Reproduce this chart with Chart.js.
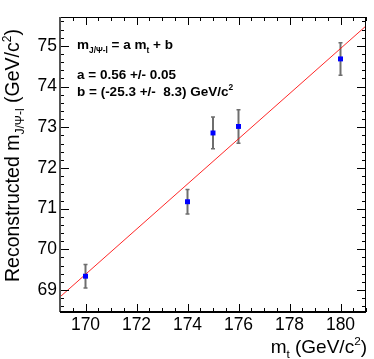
<!DOCTYPE html>
<html>
<head>
<meta charset="utf-8">
<script src="https://cdn.jsdelivr.net/npm/chart.js@4/dist/chart.umd.min.js"></script>
<style>
  html, body { margin: 0; padding: 0; background: #fff; }
</style>
</head>
<body>
<canvas id="myChart" width="374" height="359"></canvas>
<script>
// top mass points and reconstructed J/psi-lepton mass
const topMass = [170, 174, 175, 176, 180]
const recoMass = [69.34, 71.17, 72.86, 73.02, 74.68]
const recoErr = [0.29, 0.30, 0.39, 0.41, 0.40]
// fitted line, read at the frame edges
const fitX = [169, 181]
const fitY = [68.83, 75.49]
const fitText = ['a = 0.56 +/- 0.05', 'b = (-25.3 +/-  8.3) GeV/c']
// labelled ticks
const xTicks = [170, 172, 174, 176, 178, 180]
const yTicks = [69, 70, 71, 72, 73, 74, 75]

const FONT = '"Liberation Sans", Arial, Helvetica, sans-serif'

// draws a run of text pieces, 'sub' and 'sup' get smaller and shifted
function richText(c, parts, x, y, size, weight, align) {
  let total = 0
  const widths = parts.map(p => {
    const s = p[1] ? size * 0.62 : size
    c.font = weight + ' ' + s + 'px ' + FONT
    const w = c.measureText(p[0]).width
    total += w
    return w
  })
  let cx = align === 'right' ? x - total : x
  parts.forEach((p, i) => {
    const s = p[1] ? size * 0.62 : size
    c.font = weight + ' ' + s + 'px ' + FONT
    let dy = 0
    if (p[1] === 'sub') dy = size * 0.28
    if (p[1] === 'sup') dy = -size * 0.42
    c.fillText(p[0], cx, y + dy)
    cx += widths[i]
  })
}

const rootStyle = {
  id: 'rootStyle',
  beforeDatasetsDraw(chart) {
    const c = chart.ctx
    const xs = chart.scales.x, ys = chart.scales.y
    c.save()
    // error bars
    c.strokeStyle = '#6e6e6e'
    for (let i = 0; i < topMass.length; i++) {
      const px = xs.getPixelForValue(topMass[i])
      const y1 = ys.getPixelForValue(recoMass[i] - recoErr[i])
      const y2 = ys.getPixelForValue(recoMass[i] + recoErr[i])
      c.lineWidth = 2
      c.beginPath(); c.moveTo(px, y1); c.lineTo(px, y2); c.stroke()
      c.lineWidth = 1.5
      c.beginPath()
      c.moveTo(px - 2, y1); c.lineTo(px + 2, y1)
      c.moveTo(px - 2, y2); c.lineTo(px + 2, y2)
      c.stroke()
    }
    c.restore()
  },
  afterDraw(chart) {
    const c = chart.ctx
    const a = chart.chartArea
    const xs = chart.scales.x, ys = chart.scales.y
    c.save()
    // inside ticks on all four sides
    c.strokeStyle = '#000'
    c.lineWidth = 1
    c.beginPath()
    for (let v = 169; v <= 181.001; v += 0.5) {
      const px = Math.round(xs.getPixelForValue(v)) + 0.5
      const len = Math.abs(v % 2) < 0.01 ? 8 : 4
      c.moveTo(px, a.bottom); c.lineTo(px, a.bottom - len)
      c.moveTo(px, a.top); c.lineTo(px, a.top + len)
    }
    for (let v = 68.6; v <= 75.71; v += 0.2) {
      const py = Math.round(ys.getPixelForValue(v)) + 0.5
      const len = Math.abs(v - Math.round(v)) < 0.01 ? 9 : 4
      c.moveTo(a.left, py); c.lineTo(a.left + len, py)
      c.moveTo(a.right, py); c.lineTo(a.right - len, py)
    }
    c.stroke()
    // frame
    c.strokeRect(a.left + 0.5, a.top + 0.5, a.right - a.left - 1, a.bottom - a.top - 1)
    c.strokeStyle = '#555'
    c.lineWidth = 2
    c.beginPath(); c.moveTo(a.left, a.top); c.lineTo(a.left, a.bottom); c.stroke()
    c.strokeStyle = '#000'
    c.beginPath(); c.moveTo(a.left, a.bottom); c.lineTo(a.right, a.bottom); c.stroke()

    // fit box text
    c.fillStyle = '#000'
    c.textBaseline = 'alphabetic'
    c.textAlign = 'left'
    richText(c, [['m', ''], ['J/\u03A8-l', 'sub'], [' = a m', ''], ['t', 'sub'], [' + b', '']], 77, 49, 13.5, 'bold', 'left')
    richText(c, [[fitText[0], '']], 77, 79, 13.5, 'bold', 'left')
    richText(c, [[fitText[1], ''], ['2', 'sup']], 77, 96, 13.5, 'bold', 'left')

    // x axis title
    richText(c, [['m', ''], ['t', 'sub'], [' (GeV/c', ''], ['2', 'sup'], [')', '']], a.right + 1, 353, 19, 'normal', 'right')

    // y axis title, rotated
    c.translate(19, 282)
    c.rotate(-Math.PI / 2)
    richText(c, [['Reconstructed m', ''], ['J/\u03A8-l', 'sub'], [' (GeV/c', ''], ['2', 'sup'], [')', '']], 0, 0, 19.5, 'normal', 'left')
    c.restore()
  }
}

const ctx = document.getElementById('myChart')

new Chart(ctx, {
  type: 'scatter',
  data: {
    datasets: [{
      label: 'fit',
      data: fitX.map((x, i) => ({x: x, y: fitY[i]})),
      showLine: true,
      borderColor: 'rgba(255, 0, 0, 0.85)',
      borderWidth: 1,
      pointRadius: 0,
      order: 2
    }, {
      label: 'points',
      data: topMass.map((x, i) => ({x: x, y: recoMass[i]})),
      pointStyle: 'rect',
      pointRadius: 3.5,
      backgroundColor: '#0000ff',
      borderColor: '#0000ff',
      borderWidth: 0,
      order: 1
    }]
  },
  options: {
    responsive: false,
    animation: false,
    layout: { padding: { top: 17, right: 8, left: 0, bottom: 0 } },
    plugins: {
      legend: { display: false },
      tooltip: { enabled: false }
    },
    scales: {
      x: {
        type: 'linear',
        min: 169,
        max: 181,
        grid: { display: false, drawTicks: false },
        border: { display: false },
        afterBuildTicks(scale) { scale.ticks = xTicks.map(v => ({value: v})) },
        ticks: {
          padding: 3,
          color: '#000',
          font: { family: FONT, size: 17.5 }
        },
        afterFit(scale) { scale.height = 47 }
      },
      y: {
        min: 68.46,
        max: 75.71,
        grid: { display: false, drawTicks: false },
        border: { display: false },
        afterBuildTicks(scale) { scale.ticks = yTicks.map(v => ({value: v})) },
        ticks: {
          padding: 3,
          color: '#000',
          font: { family: FONT, size: 17.5 }
        },
        afterFit(scale) { scale.width = 60 }
      }
    }
  },
  plugins: [rootStyle]
})
</script>
</body>
</html>
